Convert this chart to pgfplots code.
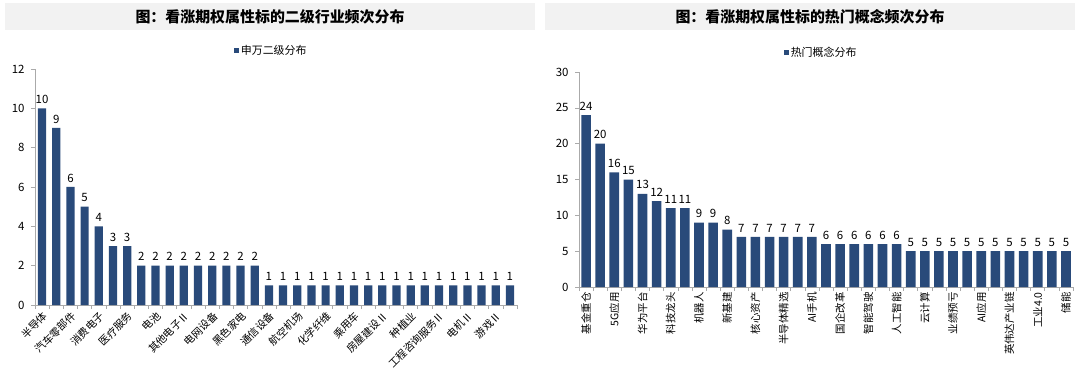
\documentclass[border=0pt]{standalone}
\usepackage{fontspec}
\setmainfont{Noto Sans CJK SC}
\usepackage{pgfplots}
\pgfplotsset{compat=1.18}
\definecolor{barc}{RGB}{41,74,122}
\definecolor{band}{RGB}{242,242,242}
\definecolor{axc}{RGB}{170,170,170}

\pgfplotsset{
  mybars/.style={
    scale only axis,
    ybar,
    ymin=0,
    axis x line*=bottom,
    axis y line*=left,
    axis line style={axc,-},
    tick style={axc,line width=0.6pt},
    major tick length=4bp,
    tick align=outside,
    ytick pos=left,
    xtick pos=bottom,
    x tick label as interval,
    /pgf/number format/assume math mode=true,
    yticklabel style={font=\fontsize{11.5}{13}\selectfont,xshift=-3bp},
    nodes near coords,
    every node near coord/.append style={font=\fontsize{11.5}{13}\selectfont,yshift=3bp,inner sep=1.5bp},
    legend style={draw=none,fill=none,font=\fontsize{11}{13}\selectfont,legend cell align=left},
    legend image code/.code={\fill[barc] (0cm,-0.09cm) rectangle (0.18cm,0.09cm);},
  }
}

\begin{document}
\begin{tikzpicture}[x=1bp,y=1bp]
\path[use as bounding box] (0,0) rectangle (1080,385);
\fill[band] (5,355) rectangle (535,382);
\fill[band] (545,355) rectangle (1075,382);
\node[font=\bfseries\fontsize{15}{17}\selectfont] at (270,368) {图：看涨期权属性标的二级行业频次分布};
\node[font=\bfseries\fontsize{15}{17}\selectfont] at (810,368) {图：看涨期权属性标的热门概念频次分布};

\begin{axis}[mybars,
  at={(35bp,80bp)}, anchor=south west,
  width=482bp, height=236bp,
  xmin=0.5, xmax=34.5, ymax=12,
  ytick={0,2,...,12},
  bar width=0.58,
  xtick={0.5,1.5,...,34.5},
  xticklabels={半导体,,汽车零部件,,消费电子,,医疗服务,,电池,,其他电子Ⅱ,,电网设备,,黑色家电,,通信设备,,航空机场,,化学纤维,,乘用车,,房屋建设Ⅱ,,种植业,,工程咨询服务Ⅱ,,电机Ⅱ,,游戏Ⅱ,},
  xticklabel style={rotate=45,anchor=north east,font=\fontsize{10.5}{12}\selectfont,inner sep=1bp},
  legend style={at={(0.49,1)},anchor=south,yshift=9bp},
]
\addplot[fill=barc,draw=none] coordinates {
(1,10)(2,9)(3,6)(4,5)(5,4)(6,3)(7,3)(8,2)(9,2)(10,2)(11,2)(12,2)(13,2)(14,2)(15,2)(16,2)
(17,1)(18,1)(19,1)(20,1)(21,1)(22,1)(23,1)(24,1)(25,1)(26,1)(27,1)(28,1)(29,1)(30,1)(31,1)(32,1)(33,1)(34,1)};
\legend{申万二级分布}
\end{axis}

\begin{axis}[mybars,
  at={(579bp,98bp)}, anchor=south west,
  width=494bp, height=215bp,
  xmin=0.5, xmax=35.5, ymax=30,
  ytick={0,5,...,30},
  bar width=0.68,
  xtick={0.5,1.5,...,35.5},
  xticklabels={基金重仓,,5G应用,,华为平台,,科技龙头,,机器人,,新基建,,核心资产,,半导体精选,,AI手机,,国企改革,,智能驾驶,,人工智能,,云计算,,业绩预亏,,AI应用,,英伟达产业链,,工业4.0,,储能},
  xticklabel style={rotate=90,anchor=east,font=\fontsize{10.5}{12}\selectfont,inner sep=1bp},
  legend style={at={(0.49,1)},anchor=south,yshift=10bp},
]
\addplot[fill=barc,draw=none] coordinates {
(1,24)(2,20)(3,16)(4,15)(5,13)(6,12)(7,11)(8,11)(9,9)(10,9)(11,8)
(12,7)(13,7)(14,7)(15,7)(16,7)(17,7)
(18,6)(19,6)(20,6)(21,6)(22,6)(23,6)
(24,5)(25,5)(26,5)(27,5)(28,5)(29,5)(30,5)(31,5)(32,5)(33,5)(34,5)(35,5)};
\legend{热门概念分布}
\end{axis}
\end{tikzpicture}
\end{document}
